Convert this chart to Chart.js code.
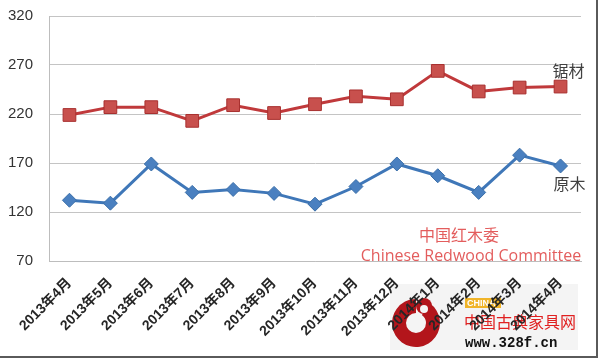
<!DOCTYPE html>
<html>
<head>
<meta charset="utf-8">
<script src="https://cdn.jsdelivr.net/npm/chart.js@4/dist/chart.umd.min.js"></script>
<style>
  html, body { margin: 0; padding: 0; background: #fff; }
  #wrap { width: 600px; height: 359px; }
</style>
</head>
<body>
<div id="wrap"><canvas id="priceChart" width="600" height="359"></canvas></div>
<script>
// data
const months = ['2013年4月', '2013年5月', '2013年6月', '2013年7月', '2013年8月', '2013年9月', '2013年10月',
    '2013年11月', '2013年12月', '2014年1月', '2014年2月', '2014年3月', '2014年4月'];
const sawnTimber = [219, 227, 227, 213, 229, 221, 230, 238, 235, 264, 243, 247, 248]; // 锯材
const logs = [132, 129, 169, 140, 143, 139, 128, 146, 169, 157, 140, 178, 167];         // 原木
const yTicks = [70, 120, 170, 220, 270, 320];

const FONT = '"Liberation Sans", "Noto Sans CJK SC", sans-serif';

// logo box in the bottom right corner, drawn under the axis labels
const logoPlugin = {
    id: 'logo',
    beforeDraw(chart) {
        const ctx = chart.ctx;
        ctx.save();
        ctx.fillStyle = '#f4f4f4';
        ctx.fillRect(390, 284, 188, 66);

        // red swirl
        ctx.fillStyle = '#b3151b';
        ctx.beginPath();
        ctx.arc(416, 323, 24, -0.3 * Math.PI, 1.5 * Math.PI, false);
        ctx.arc(416, 323, 10, 1.5 * Math.PI, -0.3 * Math.PI, true);
        ctx.closePath();
        ctx.fill();
        ctx.beginPath();
        ctx.arc(424, 306, 8, 0, 2 * Math.PI);
        ctx.fill();
        ctx.fillStyle = '#f4f4f4';
        ctx.beginPath();
        ctx.arc(424, 309, 4, 0, 2 * Math.PI);
        ctx.fill();

        ctx.fillStyle = '#f0b429';
        ctx.fillRect(465, 298, 36, 10);
        ctx.fillStyle = '#ffffff';
        ctx.font = 'bold 9px ' + FONT;
        ctx.textBaseline = 'middle';
        ctx.fillText('CHINA', 467, 303.5);

        ctx.fillStyle = '#e02020';
        ctx.font = '16px "Noto Sans CJK SC", sans-serif';
        ctx.fillText('中国古典家具网', 464, 322);
        ctx.fillStyle = '#111';
        ctx.font = 'bold 14px "Liberation Mono", "DejaVu Sans Mono", monospace';
        ctx.fillText('www.328f.cn', 465, 343);
        ctx.restore();
    },
    afterDraw(chart) {
        const ctx = chart.ctx;
        ctx.save();

        // series names next to the last points
        ctx.fillStyle = '#404040';
        ctx.font = '16px "Noto Sans CJK SC", sans-serif';
        ctx.textAlign = 'center';
        ctx.textBaseline = 'middle';
        const redLast = chart.getDatasetMeta(0).data[sawnTimber.length - 1];
        const blueLast = chart.getDatasetMeta(1).data[logs.length - 1];
        ctx.fillText('锯材', redLast.x + 8, redLast.y - 16);
        ctx.fillText('原木', blueLast.x + 9, blueLast.y + 18);

        // watermark
        ctx.fillStyle = '#e35d5d';
        ctx.font = '16px "Noto Sans CJK SC", sans-serif';
        ctx.fillText('中国红木委', 459, 235);
        ctx.font = '16px "Open Sans", sans-serif';
        ctx.fillText('Chinese Redwood Committee', 471, 256);

        // outer frame (right and bottom)
        ctx.strokeStyle = '#5a5a5a';
        ctx.lineWidth = 2;
        ctx.beginPath();
        ctx.moveTo(597, 0);
        ctx.lineTo(597, 357);
        ctx.lineTo(0, 357);
        ctx.stroke();
        ctx.restore();
    }
};

const ctx = document.getElementById('priceChart').getContext('2d');
const chart = new Chart(ctx, {
    type: 'line',
    data: {
        labels: months,
        datasets: [{
            label: '锯材',
            data: sawnTimber,
            borderColor: '#c0393b',
            backgroundColor: '#c8504d',
            pointBorderColor: '#a8302f',
            pointBorderWidth: 1,
            borderWidth: 3,
            pointStyle: 'rect',
            pointRadius: 9,
            pointHoverRadius: 9,
            tension: 0
        }, {
            label: '原木',
            data: logs,
            borderColor: '#3f77b8',
            backgroundColor: '#4a80c0',
            pointBorderColor: '#3a6ea8',
            pointBorderWidth: 1,
            borderWidth: 3,
            pointStyle: 'rectRot',
            pointRadius: 7,
            pointHoverRadius: 7,
            tension: 0
        }]
    },
    options: {
        responsive: false,
        animation: false,
        layout: { padding: { top: 16, right: 19, left: 0, bottom: 0 } },
        plugins: {
            legend: { display: false },
            tooltip: { enabled: false }
        },
        scales: {
            x: {
                offset: true,
                grid: { display: false },
                border: { display: true, color: '#bdbdbd', width: 1 },
                ticks: {
                    autoSkip: false,
                    maxRotation: 45,
                    minRotation: 45,
                    padding: 6,
                    color: '#262626',
                    font: { family: FONT, size: 14, weight: 'bold' }
                },
                afterFit(scale) { scale.height = 98; }
            },
            y: {
                min: 70,
                max: 320,
                afterBuildTicks(scale) { scale.ticks = yTicks.map(v => ({ value: v })); },
                grid: { color: '#c4c4c4', lineWidth: 1, drawTicks: false },
                border: { display: true, color: '#bdbdbd', width: 1 },
                ticks: {
                    padding: 16,
                    color: '#333',
                    font: { family: FONT, size: 15 }
                },
                afterFit(scale) {
                    scale.width = 49;
                    scale.paddingTop = 0;
                    scale.paddingBottom = 0;
                }
            }
        }
    },
    plugins: [logoPlugin]
});
</script>
</body>
</html>
